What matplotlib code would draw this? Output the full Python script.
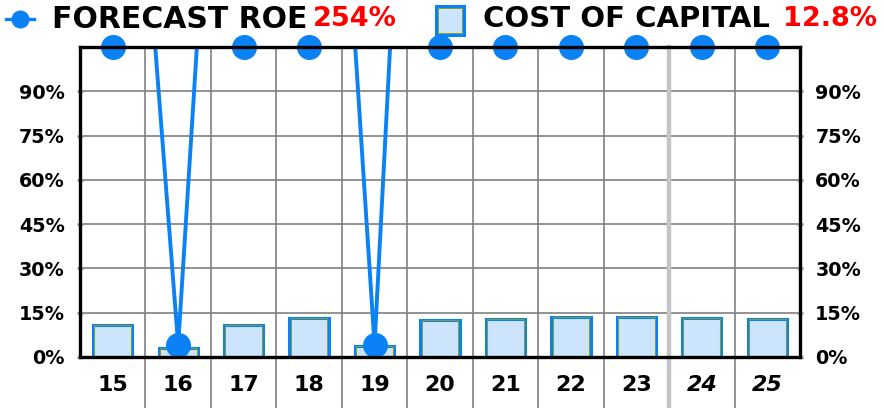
import matplotlib.pyplot as plt
from matplotlib.lines import Line2D
from matplotlib.patches import Rectangle

years = ["15", "16", "17", "18", "19", "20", "21", "22", "23", "24", "25"]
cost_of_capital = [10.9, 2.9, 10.9, 13.1, 3.6, 12.4, 12.8, 13.5, 13.4, 13.1, 13.0]
forecast_roe = [292, 4, 358, 346, 4, 429, 400, 350, 300, 270, 254]
yticks = [0, 15, 30, 45, 60, 75, 90]
ymax = 105

blue = "#0a82f5"
face = "#cce4fc"
green = "#8a9e1e"

fig = plt.figure(figsize=(8.84, 4.08), dpi=100)
ax = fig.add_axes([80 / 884, 51 / 408, 720 / 884, 310 / 408])

x = list(range(len(years)))

# bars: blue outer edge, thin green inner edge
ax.bar(x, cost_of_capital, width=0.6, color=face, edgecolor=blue, linewidth=2.2, zorder=3)
ax.bar(x, cost_of_capital, width=0.56, color="none", edgecolor=green, linewidth=0.7, zorder=3)

# ROE line (clipped) and markers pinned to the top
ax.plot(x, forecast_roe, color=blue, linewidth=2.8, zorder=4)
ax.plot(x, [min(v, ymax) for v in forecast_roe], linestyle="none", marker="o",
        markersize=17, color=blue, clip_on=False, zorder=5)

ax.set_xlim(-0.5, len(years) - 0.5)
ax.set_ylim(0, ymax)

# grid
for y in yticks[1:]:
    ax.axhline(y, color="#808080", linewidth=1.2, zorder=1)
for i in range(len(years) - 1):
    if i == 8:
        ax.axvline(i + 0.5, ymin=-0.17, ymax=1, color="#c4c4c4", linewidth=3.2,
                   clip_on=False, zorder=1)
    else:
        ax.axvline(i + 0.5, ymin=-0.17, ymax=1, color="#808080", linewidth=1.2,
                   clip_on=False, zorder=1)

for s in ax.spines.values():
    s.set_linewidth(2.4)
    s.set_color("black")
    s.set_zorder(6)

ax.set_yticks(yticks)
ax.set_yticklabels([f"{v}%" for v in yticks], fontsize=13.8, fontweight="bold")
ax.tick_params(axis="y", which="both", left=True, right=True, labelleft=True,
               labelright=True, length=4, width=2, color="#999999",
               direction="inout", pad=9)

ax.set_xticks(x)
ax.set_xticklabels(years, fontsize=15.9, fontweight="bold")
ax.tick_params(axis="x", length=0, pad=13)
for lbl in ax.get_xticklabels()[9:]:
    lbl.set_fontstyle("italic")

# legend
ly = 1 - 19 / 408
fig.add_artist(Line2D([6 / 884, 34 / 884], [ly, ly], color=blue, linewidth=2.4))
fig.add_artist(Line2D([20 / 884], [ly], marker="o", markersize=12, color=blue))
fig.text(52 / 884, ly, "FORECAST ROE", fontsize=21.5, fontweight="bold", va="center")
fig.text(313 / 884, ly, "254%", fontsize=19.5, fontweight="bold", va="center", color="red")
fig.add_artist(Rectangle((436 / 884, 1 - 35 / 408), 28 / 884, 29 / 408, facecolor=face,
                         edgecolor=blue, linewidth=2.2, transform=fig.transFigure))
fig.add_artist(Rectangle((438 / 884, 1 - 33 / 408), 24 / 884, 25 / 408, facecolor="none",
                         edgecolor=green, linewidth=0.7, transform=fig.transFigure))
fig.text(483 / 884, ly, "COST OF CAPITAL", fontsize=21, fontweight="bold", va="center")
fig.text(877 / 884, ly, "12.8%", fontsize=19.5, fontweight="bold", va="center",
         ha="right", color="red")

fig.savefig("out.png", dpi=100)
